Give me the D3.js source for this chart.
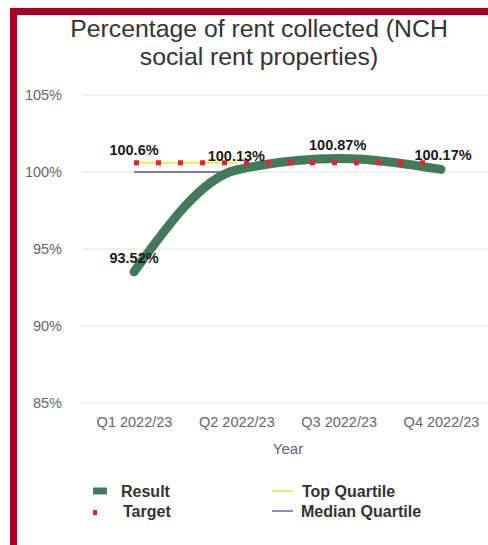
<!DOCTYPE html>
<html>
<head>
<meta charset="utf-8">
<script src="https://cdn.jsdelivr.net/npm/d3@7"></script>
<style>
  html, body { margin: 0; padding: 0; background: #fff; }
  svg { display: block; font-family: "Liberation Sans", Arial, sans-serif; }
</style>
</head>
<body>
<svg id="chart" width="488" height="545"></svg>
<script>
// Quarters and series
const quarters = ["Q1 2022/23", "Q2 2022/23", "Q3 2022/23", "Q4 2022/23"];
const resultValues = [93.52, 100.13, 100.87, 100.17];
const targetValues = [100.6, 100.6, 100.6, 100.6];
const topQuartileValues = [100.6, 100.6];
const medianQuartileValues = [100, 100];
const yTicks = [85, 90, 95, 100, 105];
const resultLabels = ["93.52%", "100.13%", "100.87%", "100.17%"];

const svg = d3.select("#chart");

// Frame
svg.append("path")
  .attr("d", "M13.5,560 V11.5 H500")
  .attr("fill", "none")
  .attr("stroke", "#a50021")
  .attr("stroke-width", 7);

// Title
const title = svg.append("text")
  .attr("text-anchor", "middle")
  .attr("fill", "#333")
  .attr("font-size", 24.8);
title.append("tspan").attr("x", 259).attr("y", 37).text("Percentage of rent collected (NCH");
title.append("tspan").attr("x", 259).attr("y", 65).text("social rent properties)");

// Scales
const x = d3.scalePoint().domain(quarters).range([134, 441]);
const y = d3.scaleLinear().domain([85, 105]).range([403, 95]);

// Gridlines
svg.append("g")
  .selectAll("line")
  .data(yTicks)
  .join("line")
  .attr("x1", 81).attr("x2", 488)
  .attr("y1", d => y(d)).attr("y2", d => y(d))
  .attr("stroke", "#e0e0e0")
  .attr("stroke-width", 1);

// Y axis labels
const yAxis = svg.append("g")
  .attr("transform", "translate(70,0)")
  .call(d3.axisLeft(y).tickValues(yTicks).tickFormat(d => d + "%").tickSize(0).tickPadding(8));
yAxis.select(".domain").remove();
yAxis.selectAll("text")
  .attr("fill", "#666")
  .attr("font-size", 14.5)
  .attr("font-family", "Liberation Sans, Arial, sans-serif");

// X axis labels
const xAxis = svg.append("g")
  .attr("transform", "translate(0,412)")
  .call(d3.axisBottom(x).tickSize(0).tickPadding(5));
xAxis.select(".domain").remove();
xAxis.selectAll("text")
  .attr("fill", "#666")
  .attr("font-size", 14.5)
  .attr("font-family", "Liberation Sans, Arial, sans-serif");

svg.append("text")
  .attr("x", 288).attr("y", 454)
  .attr("text-anchor", "middle")
  .attr("fill", "#666")
  .attr("font-size", 15)
  .text("Year");

const line = d3.line()
  .x((d, i) => x(quarters[i]))
  .y(d => y(d));

// Median quartile
svg.append("path")
  .attr("d", line(medianQuartileValues))
  .attr("fill", "none")
  .attr("stroke", "#5b4ea0")
  .attr("stroke-width", 1.5);

// Top quartile
svg.append("path")
  .attr("d", line(topQuartileValues))
  .attr("fill", "none")
  .attr("stroke", "#f5e23a")
  .attr("stroke-width", 1.5);

// Result
svg.append("path")
  .attr("d", d3.line()
    .x((d, i) => x(quarters[i]))
    .y(d => y(d))
    .curve(d3.curveMonotoneX)(resultValues))
  .attr("fill", "none")
  .attr("stroke", "#437a5a")
  .attr("stroke-width", 9)
  .attr("stroke-linecap", "round")
  .attr("stroke-linejoin", "round");

// Target (square dots, drawn over the result line)
svg.append("path")
  .attr("d", line(targetValues))
  .attr("fill", "none")
  .attr("stroke", "#e02430")
  .attr("stroke-width", 5)
  .attr("stroke-dasharray", "5 17");

// Data labels
const labelStyle = sel => sel
  .attr("text-anchor", "middle")
  .attr("fill", "#1a1a1a")
  .attr("font-weight", "bold")
  .attr("font-size", 14.5);

svg.append("text").call(labelStyle)
  .attr("x", x(quarters[0])).attr("y", y(targetValues[0]) - 8)
  .text(targetValues[0] + "%");

svg.append("g").selectAll("text")
  .data(resultValues)
  .join("text")
  .call(labelStyle)
  .attr("x", (d, i) => x(quarters[i]) + [0, 0, -1, 2][i])
  .attr("y", (d, i) => y(d) - 9)
  .text((d, i) => resultLabels[i]);

// Legend
const legend = svg.append("g").attr("font-weight", "bold").attr("font-size", 16).attr("fill", "#333");
legend.append("path")
  .attr("d", "M93,491 H107")
  .attr("stroke", "#437a5a").attr("stroke-width", 7);
legend.append("rect").attr("x", 93).attr("y", 510).attr("width", 4).attr("height", 5).attr("fill", "#e02430");
legend.append("text").attr("x", 121).attr("y", 497).text("Result");
legend.append("text").attr("x", 123).attr("y", 517).text("Target");
legend.append("line").attr("x1", 272).attr("x2", 293).attr("y1", 491).attr("y2", 491)
  .attr("stroke", "#f5e23a").attr("stroke-width", 1.5);
legend.append("line").attr("x1", 272).attr("x2", 293).attr("y1", 511).attr("y2", 511)
  .attr("stroke", "#6a64a8").attr("stroke-width", 1.5);
legend.append("text").attr("x", 302).attr("y", 497).text("Top Quartile");
legend.append("text").attr("x", 301).attr("y", 517).text("Median Quartile");
</script>
</body>
</html>
